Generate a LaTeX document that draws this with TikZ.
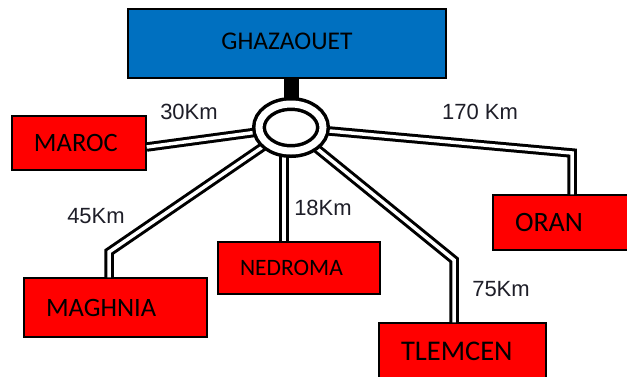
\documentclass[tikz,border=0pt]{standalone}
\usepackage{fontspec}
\setmainfont{Carlito}
\newfontfamily\kmfont{Liberation Sans}
\usepackage{tikz}
\usetikzlibrary{shapes.geometric, positioning, calc}
\definecolor{cityblue}{RGB}{0,112,192}
\definecolor{cityred}{RGB}{255,0,0}
\definecolor{kmtext}{RGB}{30,30,40}
\tikzset{
  bluebox/.style={rectangle, draw=black, fill=cityblue, line width=1.5pt,
    minimum width=318pt, minimum height=69pt, inner sep=0pt,
    font=\fontsize{25.5}{29}\selectfont},
  redbox/.style={rectangle, draw=black, fill=cityred, line width=1.5pt,
    align=left, inner xsep=22pt, inner ysep=0pt},
  hubring/.style={ellipse, draw=black, fill=white, line width=3.5pt,
    double=white, double distance=7pt, minimum width=64pt,
    minimum height=47pt, inner sep=0pt},
  road/.style={draw=black, line width=3pt, double=white,
    double distance=3.5pt},
  stem/.style={draw=black, line width=15pt},
  km/.style={font=\kmfont\fontsize{22}{26}\selectfont, text=kmtext, inner sep=0pt}
}

\begin{document}
\begin{tikzpicture}[x=1pt, y=-1pt]
  \useasboundingbox (0,0) rectangle (627,376);

  % Towns
  \node[bluebox] (ghaz) at (287,43.5) {\raisebox{4pt}{GHAZAOUET}};
  \node[redbox, text width=90pt, minimum height=54pt, font=\fontsize{26.5}{30}\selectfont] (maroc) at (79,143) {MAROC};
  \node[redbox, text width=90.5pt, minimum height=55pt, font=\fontsize{28}{32}\selectfont] (oran) at (560.25,222.5) {ORAN};
  \node[redbox, text width=139pt, minimum height=59pt, font=\fontsize{26.5}{30}\selectfont] (maghnia) at (115.5,307.5) {MAGHNIA};
  \node[redbox, text width=118pt, minimum height=52pt, font=\fontsize{23.5}{27}\selectfont] (nedroma) at (299,268) {NEDROMA};
  \node[redbox, text width=123pt, minimum height=56pt, font=\fontsize{28.5}{32}\selectfont] (tlemcen) at (462.5,351) {TLEMCEN};

  % Road bends
  \coordinate (hub) at (291,127.5);
  \coordinate (oranbend) at (572,153);
  \coordinate (maghbend) at (109,252);
  \coordinate (nedtop) at (284,127.5);
  \coordinate (tlembend) at (454,260);

  % Roads
  \draw[stem] (ghaz.south -| hub) -- (hub);
  \draw[road] (hub) -- ([yshift=-4pt]maroc.east);
  \draw[road] (hub) -- (oranbend) -- (oran.north -| oranbend);
  \draw[road] (hub) -- (maghbend) -- (maghnia.north -| maghbend);
  \draw[road] (nedtop) -- (nedroma.north -| nedtop);
  \draw[road] (hub) -- (tlembend) -- (tlemcen.north -| tlembend);

  % Roundabout
  \node[hubring] (ring) at (hub) {};

  % Distances
  \node[km] (km30) at (189,112) {30Km};
  \node[km] (km170) at (480,112) {170 Km};
  \node[km] (km45) at (96,216) {45Km};
  \node[km] (km18) at (323,208) {18Km};
  \node[km] (km75) at (501,289) {75Km};
\end{tikzpicture}
\end{document}
